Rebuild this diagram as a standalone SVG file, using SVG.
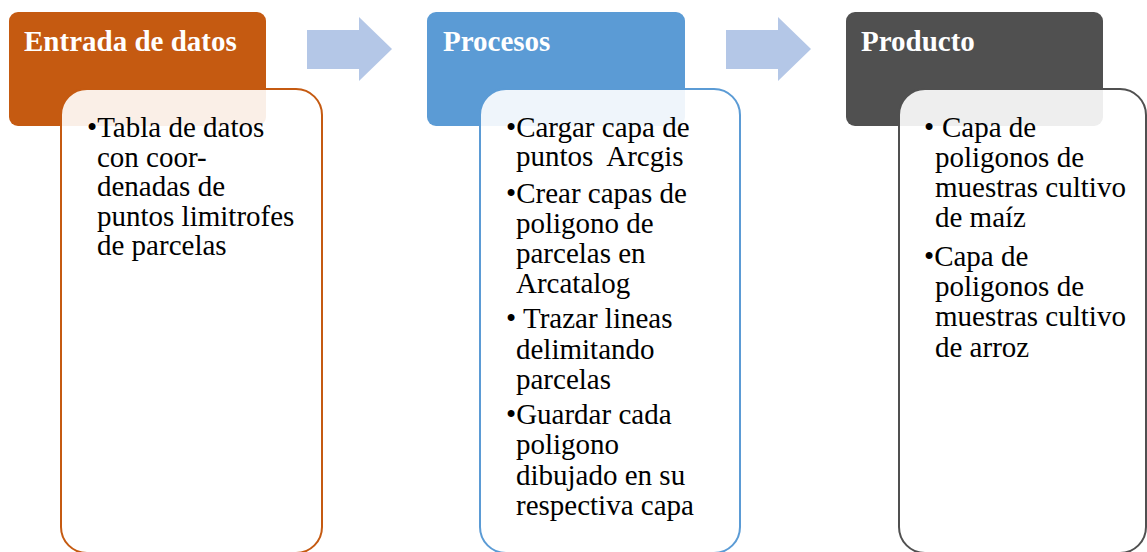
<svg xmlns="http://www.w3.org/2000/svg" width="1147" height="552" viewBox="0 0 1147 552">
<defs>
<style>
.hd{font-family:"Liberation Serif","Times New Roman",serif;font-weight:bold;font-size:29px;fill:#ffffff}
.tx{font-family:"Liberation Serif","Times New Roman",serif;font-size:29px;fill:#000000;white-space:pre}
.body{fill:#ffffff;fill-opacity:0.9;stroke-width:2}
.arrow{fill:#B4C7E7}
</style>
</defs>
<rect width="1147" height="552" fill="#ffffff"/>
<g id="node-entrada">
<rect x="9" y="12" width="257" height="114" rx="9" fill="#C55A11"/>
<text class="hd" x="24" y="51">Entrada de datos</text>
<rect class="body" x="61" y="89" width="261" height="464" rx="26" stroke="#C55A11"/>
<text class="tx"><tspan x="87" y="137">•Tabla de datos</tspan><tspan x="97" y="167">con coor-</tspan><tspan x="97" y="196">denadas de</tspan><tspan x="97" y="226">puntos limitrofes</tspan><tspan x="97" y="255">de parcelas</tspan></text>
</g>
<g id="node-procesos">
<rect x="427" y="12" width="258" height="114" rx="9" fill="#5B9BD5"/>
<text class="hd" x="443" y="51">Procesos</text>
<rect class="body" x="480" y="89" width="260" height="464" rx="26" stroke="#5B9BD5"/>
<text class="tx" xml:space="preserve"><tspan x="506" y="137">•Cargar capa de</tspan><tspan x="516" y="166">puntos  Arcgis</tspan><tspan x="506" y="203">•Crear capas de</tspan><tspan x="516" y="233">poligono de</tspan><tspan x="516" y="263">parcelas en</tspan><tspan x="516" y="293">Arcatalog</tspan><tspan x="506" y="328">•</tspan><tspan x="523" y="328">Trazar lineas</tspan><tspan x="516" y="359">delimitando</tspan><tspan x="516" y="389">parcelas</tspan><tspan x="506" y="424">•Guardar cada</tspan><tspan x="516" y="454">poligono</tspan><tspan x="516" y="485">dibujado en su</tspan><tspan x="516" y="515">respectiva capa</tspan></text>
</g>
<g id="node-producto">
<rect x="846" y="12" width="257" height="114" rx="9" fill="#505050"/>
<text class="hd" x="861" y="51">Producto</text>
<rect class="body" x="899" y="89" width="247" height="464" rx="26" stroke="#505050"/>
<text class="tx"><tspan x="924" y="137">•</tspan><tspan x="942" y="137">Capa de</tspan><tspan x="935" y="167">poligonos de</tspan><tspan x="935" y="197">muestras cultivo</tspan><tspan x="935" y="227">de maíz</tspan><tspan x="924" y="266">•Capa de</tspan><tspan x="935" y="296">poligonos de</tspan><tspan x="935" y="326">muestras cultivo</tspan><tspan x="935" y="357">de arroz</tspan></text>
</g>
<g id="connectors">
<polygon class="arrow" points="307,30 359,30 359,17 392,49 359,81 359,69 307,69"/>
<polygon class="arrow" points="726,30 778,30 778,17 811,49 778,81 778,69 726,69"/>
</g>
</svg>
